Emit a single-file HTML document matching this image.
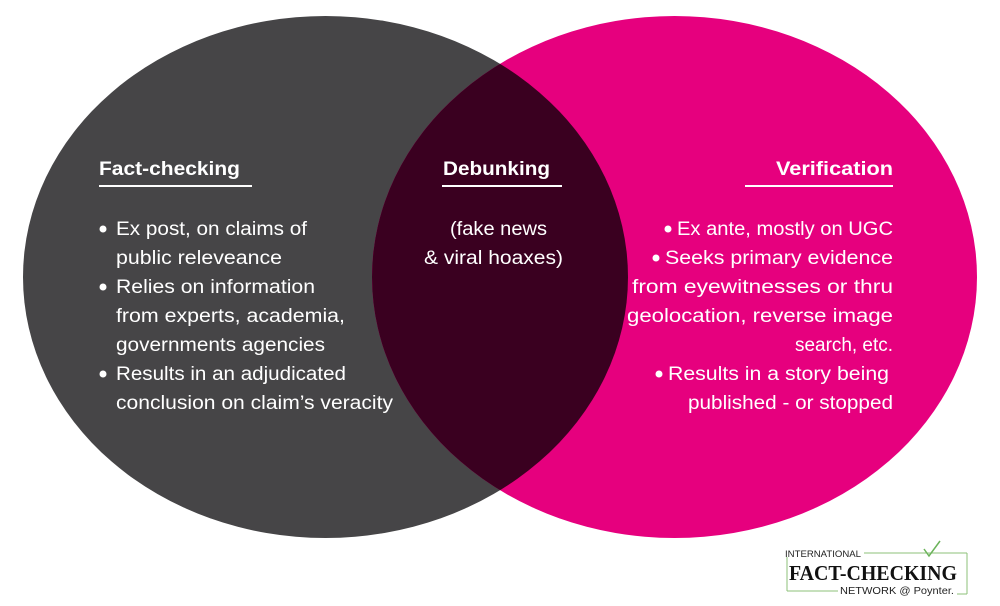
<!DOCTYPE html>
<html><head><meta charset="utf-8"><style>
html,body{margin:0;padding:0;background:#fff;width:1000px;height:606px;overflow:hidden}
svg{display:block}
text{font-family:"Liberation Sans",sans-serif;fill:#fff}
.h{font-weight:bold;font-size:19px}
.t{font-size:19px}
</style></head><body>
<svg width="1000" height="606" viewBox="0 0 1000 606" xmlns="http://www.w3.org/2000/svg">
<defs><clipPath id="cl"><ellipse cx="325.5" cy="277" rx="302.5" ry="261"/></clipPath></defs>
<ellipse cx="325.5" cy="277" rx="302.5" ry="261" fill="#464547"/>
<ellipse cx="674.5" cy="277" rx="302.5" ry="261" fill="#e6007e"/>
<ellipse cx="674.5" cy="277" rx="302.5" ry="261" fill="#3a0020" clip-path="url(#cl)"/>

<text class="h" x="99" y="175" textLength="141" lengthAdjust="spacingAndGlyphs">Fact-checking</text>
<rect x="99" y="185" width="153" height="2" fill="#fff"/>
<text class="h" x="443" y="175" textLength="107" lengthAdjust="spacingAndGlyphs">Debunking</text>
<rect x="442" y="185" width="120" height="2" fill="#fff"/>
<text class="h" x="776" y="175" textLength="117" lengthAdjust="spacingAndGlyphs">Verification</text>
<rect x="745" y="185" width="148" height="2" fill="#fff"/>

<g class="t">
<circle cx="103" cy="229" r="3.5" fill="#fff"/>
<text class="t" x="116" y="235" textLength="191" lengthAdjust="spacingAndGlyphs">Ex post, on claims of</text>
<text class="t" x="116" y="264" textLength="166" lengthAdjust="spacingAndGlyphs">public releveance</text>
<circle cx="103" cy="287" r="3.5" fill="#fff"/>
<text class="t" x="116" y="293" textLength="199" lengthAdjust="spacingAndGlyphs">Relies on information</text>
<text class="t" x="116" y="322" textLength="229" lengthAdjust="spacingAndGlyphs">from experts, academia,</text>
<text class="t" x="116" y="351" textLength="209" lengthAdjust="spacingAndGlyphs">governments agencies</text>
<circle cx="103" cy="374" r="3.5" fill="#fff"/>
<text class="t" x="116" y="380" textLength="230" lengthAdjust="spacingAndGlyphs">Results in an adjudicated</text>
<text class="t" x="116" y="409" textLength="277" lengthAdjust="spacingAndGlyphs">conclusion on claim’s veracity</text>

<text class="t" x="450" y="235" textLength="97" lengthAdjust="spacingAndGlyphs">(fake news</text>
<text class="t" x="424" y="264" textLength="139" lengthAdjust="spacingAndGlyphs">&amp; viral hoaxes)</text>

<circle cx="668" cy="229" r="3.5" fill="#fff"/>
<text class="t" x="677" y="235" textLength="216" lengthAdjust="spacingAndGlyphs">Ex ante, mostly on UGC</text>
<circle cx="656" cy="258" r="3.5" fill="#fff"/>
<text class="t" x="665" y="264" textLength="228" lengthAdjust="spacingAndGlyphs">Seeks primary evidence</text>
<text class="t" x="632" y="293" textLength="261" lengthAdjust="spacingAndGlyphs">from eyewitnesses or thru</text>
<text class="t" x="627" y="322" textLength="266" lengthAdjust="spacingAndGlyphs">geolocation, reverse image</text>
<text class="t" x="795" y="351" textLength="98" lengthAdjust="spacingAndGlyphs">search, etc.</text>
<circle cx="659" cy="374" r="3.5" fill="#fff"/>
<text class="t" x="668" y="380" textLength="221" lengthAdjust="spacingAndGlyphs">Results in a story being</text>
<text class="t" x="688" y="409" textLength="205" lengthAdjust="spacingAndGlyphs">published - or stopped</text>
</g>

<!-- logo -->
<g>
<text x="785" y="557" style="fill:#222;font-size:9px" textLength="76" lengthAdjust="spacingAndGlyphs">INTERNATIONAL</text>
<line x1="864" y1="553" x2="967" y2="553" stroke="#8cc07a" stroke-width="1"/>
<polyline points="924,549 929,556 940,541" fill="none" stroke="#6bb35a" stroke-width="1.5"/>
<line x1="787" y1="557" x2="787" y2="591" stroke="#8cc07a" stroke-width="1"/>
<line x1="967" y1="553" x2="967" y2="594" stroke="#8cc07a" stroke-width="1"/>
<text x="789" y="580" style="fill:#111;font-family:'Liberation Serif',serif;font-weight:bold;font-size:21px" textLength="168" lengthAdjust="spacingAndGlyphs">FACT-CHECKING</text>
<line x1="787" y1="591" x2="838" y2="591" stroke="#8cc07a" stroke-width="1"/>
<text x="840" y="594" style="fill:#222;font-size:10px" textLength="114" lengthAdjust="spacingAndGlyphs">NETWORK @ Poynter.</text>
<line x1="957" y1="594" x2="967" y2="594" stroke="#8cc07a" stroke-width="1"/>
</g>
</svg>
</body></html>
